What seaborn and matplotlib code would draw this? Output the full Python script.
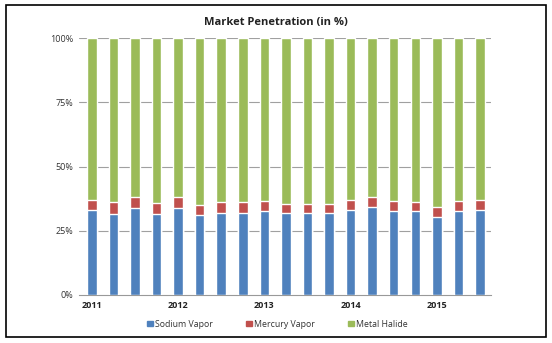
import matplotlib
matplotlib.use("Agg")
import matplotlib.pyplot as plt
from matplotlib.patches import Rectangle
import seaborn as sns
import pandas as pd

periods = list(range(19))
tick_positions = [0, 4, 8, 12, 16]
tick_labels = ["2011", "2012", "2013", "2014", "2015"]
sodium = [32.9, 31.6, 33.9, 31.6, 33.9, 31.0, 32.1, 31.8, 32.6, 31.8, 31.8, 31.8,
          33.1, 34.4, 32.6, 32.6, 30.5, 32.6, 32.9]
mercury = [4.1, 4.4, 4.4, 4.2, 4.3, 4.2, 3.9, 4.2, 3.9, 3.7, 3.7, 3.7,
           3.9, 3.9, 3.9, 3.6, 3.7, 3.9, 4.1]
metal = [100 - s - m for s, m in zip(sodium, mercury)]

series_names = ["Sodium Vapor", "Mercury Vapor", "Metal Halide"]
colors = ["#4F81BD", "#C0504D", "#9BBB59"]

sns.set_style("white")
plt.rcParams["font.family"] = ["Open Sans", "DejaVu Sans"]

df = pd.DataFrame({"period": periods, "Sodium Vapor": sodium,
                   "Mercury Vapor": mercury, "Metal Halide": metal})
df["c1"] = df["Sodium Vapor"]
df["c2"] = df["c1"] + df["Mercury Vapor"]
df["c3"] = df["c2"] + df["Metal Halide"]

fig = plt.figure(figsize=(5.52, 3.43), dpi=100)
ax = fig.add_axes([0.143, 0.140, 0.746, 0.749])

for col, colr in zip(["c3", "c2", "c1"], colors[::-1]):
    sns.barplot(data=df, x="period", y=col, color=colr, width=0.44,
                saturation=1, ax=ax, zorder=3, order=periods)

ax.set_ylim(0, 100)
ax.set_xlim(-0.6, 18.5)
ax.set_yticks([0, 25, 50, 75, 100])
ax.set_yticklabels(["0%", "25%", "50%", "75%", "100%"], fontsize=6.5, color="#333333")
ax.set_xticks(tick_positions)
ax.set_xticklabels(tick_labels, fontsize=6.5, fontweight="bold", color="#222222")
ax.tick_params(axis="x", length=0, pad=4)
ax.tick_params(axis="y", length=0, pad=4)
ax.set_xticks([p + 0.5 for p in periods], minor=True)
ax.tick_params(axis="x", which="minor", length=3, color="#999999", width=0.8)
ax.set_xlabel("")
ax.set_ylabel("")
for y in [25, 50, 75, 100]:
    ax.axhline(y, color="#A0A0A0", lw=0.8, zorder=1)
for s in ["top", "right", "left"]:
    ax.spines[s].set_visible(False)
ax.spines["bottom"].set_color("#999999")
ax.spines["bottom"].set_linewidth(0.8)

fig.text(0.5, 0.935, "Market Penetration (in %)", ha="center", va="center",
         fontsize=8, fontweight="bold", color="#222222")

handles = [Rectangle((0, 0), 1, 1, color=c) for c in colors]
fig.legend(handles, series_names, loc="center", bbox_to_anchor=(0.503, 0.055),
           ncol=3, frameon=False, fontsize=6.3, handlelength=0.6, handleheight=0.6,
           handletextpad=0.3, columnspacing=3.8, labelcolor="#333333")

fig.add_artist(Rectangle((0.011, 0.017), 0.978, 0.968, transform=fig.transFigure,
                         fill=False, edgecolor="black", lw=1.2))

fig.savefig("out.png", dpi=100)
